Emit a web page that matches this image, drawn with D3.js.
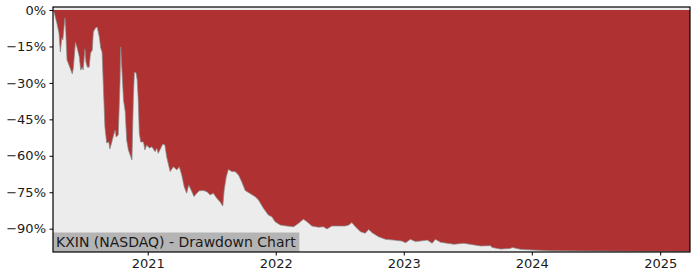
<!DOCTYPE html>
<html>
<head>
<meta charset="utf-8">
<script src="https://cdn.jsdelivr.net/npm/d3@7"></script>
<style>
  body { margin: 0; background: #fff; }
  text { font-family: "DejaVu Sans", sans-serif; }
</style>
</head>
<body>
<div id="chart"></div>
<script>
// drawdown readings (date, % below previous peak)
const dates = [
  "2020-04-06","2020-04-09","2020-04-17","2020-04-23","2020-04-27","2020-05-01","2020-05-04","2020-05-10",
  "2020-05-12","2020-05-16","2020-05-24","2020-05-31","2020-06-03","2020-06-09","2020-06-14","2020-06-20",
  "2020-06-24","2020-06-29","2020-07-01","2020-07-06","2020-07-09","2020-07-13","2020-07-18","2020-07-22",
  "2020-07-27","2020-07-30","2020-08-05","2020-08-10","2020-08-16","2020-08-20","2020-08-24","2020-08-28",
  "2020-09-01","2020-09-06","2020-09-12","2020-09-15","2020-09-20","2020-09-25","2020-09-30","2020-10-03",
  "2020-10-09","2020-10-14","2020-10-16","2020-10-19","2020-10-24","2020-10-29","2020-11-02","2020-11-07",
  "2020-11-12","2020-11-17","2020-11-21","2020-11-24","2020-11-29","2020-12-02","2020-12-05","2020-12-08",
  "2020-12-12","2020-12-20","2020-12-24","2020-12-29","2021-01-06","2021-01-13","2021-01-22","2021-01-27",
  "2021-01-31","2021-02-13","2021-02-19","2021-02-24","2021-03-06","2021-03-15","2021-03-25","2021-04-01",
  "2021-04-08","2021-04-15","2021-04-22","2021-04-28","2021-05-07","2021-05-13","2021-05-21","2021-05-28",
  "2021-06-09","2021-06-19","2021-06-28","2021-07-07","2021-07-17","2021-07-26","2021-08-03","2021-08-07",
  "2021-08-13","2021-08-19","2021-08-29","2021-09-07","2021-09-17","2021-09-26","2021-10-06","2021-10-22",
  "2021-11-03","2021-11-13","2021-11-27","2021-12-11","2021-12-21","2021-12-30","2022-01-14","2022-02-02",
  "2022-02-21","2022-03-07","2022-03-21","2022-03-31","2022-04-14","2022-05-03","2022-05-17","2022-05-27",
  "2022-06-10","2022-06-29","2022-07-18","2022-07-28","2022-08-06","2022-08-16","2022-08-30","2022-09-13",
  "2022-09-23","2022-10-03","2022-10-21","2022-11-10","2022-12-03","2022-12-27","2023-01-06","2023-01-20",
  "2023-02-03","2023-02-17","2023-03-09","2023-03-23","2023-04-01","2023-04-16","2023-05-24","2023-06-21",
  "2023-08-08","2023-09-05","2023-09-10","2023-10-04","2023-11-02","2023-11-06","2023-11-30","2024-01-07",
  "2024-02-24","2024-09-30","2025-03-27"
];
const drawdown = [
  0, -0.8, -5.3, -9.5, -17.3, -11.5, -12.3, -3.3,
  -7, -20.6, -23.5, -26.3, -23.9, -13.2, -15.6, -19.3,
  -24.7, -23.5, -24.7, -16, -21.4, -23.5, -23.5, -17.7,
  -16.5, -9, -7.4, -7, -11.1, -15.6, -17.3, -32.9,
  -48.1, -54.7, -54.3, -57.2, -54.7, -51.9, -49.4, -52.3,
  -51.4, -30, -15.2, -23.5, -37, -42, -53.5, -57.6,
  -59.7, -61.7, -37, -25.5, -25.9, -28.8, -37, -50.6,
  -54.3, -54.3, -57.6, -55.6, -56.8, -56.3, -58.3, -56.9,
  -59, -55.1, -55.6, -60.4, -66.5, -64.5, -65.8, -64.5,
  -67.9, -72.7, -75.4, -72, -74.8, -76.8, -75.4, -74.4,
  -74.3, -74.8, -76.1, -75.4, -77.5, -78.9, -80.7, -74.1,
  -68.6, -65.6, -66.5, -66.5, -67.9, -70.7, -74.3, -75.7,
  -76.8, -78.2, -81.6, -84.4, -85.1, -87.1, -88.5, -88.9,
  -89.2, -87.8, -86.1, -87.1, -88.9, -89.4, -89.2, -90.1,
  -88.9, -88.9, -88.9, -88.5, -87.5, -89.2, -91.2, -91.9,
  -90.3, -91.7, -93.3, -94.4, -94.7, -95.1, -95.8, -94.4,
  -95.3, -95.1, -94.7, -96, -94.4, -95.6, -96.4, -96,
  -97.1, -97, -97.7, -98.4, -98.1, -97.7, -98.5, -98.8,
  -99.1, -99.3, -99.4
];
const yTicks = [0, -15, -30, -45, -60, -75, -90];
const xTickYears = [2021, 2022, 2023, 2024, 2025];
const title = "KXIN (NASDAQ) - Drawdown Chart";

const width = 700, height = 280;
const margin = {top: 7, right: 10, bottom: 28, left: 53};

const parse = d3.timeParse("%Y-%m-%d");
const data = dates.map((d, i) => ({date: parse(d), dd: drawdown[i]}));

const x = d3.scaleTime()
  .domain(d3.extent(data, d => d.date))
  .range([margin.left, width - margin.right]);
const y = d3.scaleLinear()
  .domain([-99.6, 1.25])
  .range([height - margin.bottom, margin.top]);

const svg = d3.select("#chart").append("svg")
  .attr("width", width)
  .attr("height", height);

// plot background
svg.append("rect")
  .attr("x", margin.left).attr("y", margin.top)
  .attr("width", width - margin.left - margin.right)
  .attr("height", height - margin.top - margin.bottom)
  .attr("fill", "#ececec");

const area = d3.area()
  .x(d => x(d.date))
  .y0(y(0))
  .y1(d => y(d.dd));

svg.append("path")
  .datum(data)
  .attr("fill", "#b03131")
  .attr("d", area);

svg.append("path")
  .datum(data)
  .attr("fill", "none")
  .attr("stroke", "#888")
  .attr("stroke-opacity", 0.7)
  .attr("stroke-width", 1)
  .attr("d", d3.line().x(d => x(d.date)).y(d => y(d.dd)));

// title box in bottom-left corner
const label = svg.append("g");
const labelText = label.append("text")
  .attr("x", margin.left + 3)
  .attr("y", height - margin.bottom - 5)
  .attr("font-size", 14)
  .attr("fill", "#1a1a1a")
  .text(title);
const bb = labelText.node().getBBox();
label.insert("rect", "text")
  .attr("x", margin.left)
  .attr("y", height - margin.bottom - 19.5)
  .attr("width", bb.width + 6)
  .attr("height", 19.5)
  .attr("fill", "#b4b4b4");

// axes
const fmt = v => (v < 0 ? "\u2212" : "") + Math.abs(v) + "%";
svg.append("g")
  .attr("transform", `translate(${margin.left},0)`)
  .call(d3.axisLeft(y).tickValues(yTicks).tickFormat(fmt).tickSize(3.5).tickPadding(3.5))
  .call(g => g.select(".domain").remove())
  .call(g => g.selectAll("text").attr("font-size", 13).attr("fill", "#1a1a1a").attr("font-family", "DejaVu Sans"));

svg.append("g")
  .attr("transform", `translate(0,${height - margin.bottom})`)
  .call(d3.axisBottom(x).tickValues(xTickYears.map(yr => new Date(yr, 0, 1)))
    .tickFormat(d3.timeFormat("%Y")).tickSize(3.5).tickPadding(3.5))
  .call(g => g.select(".domain").remove())
  .call(g => g.selectAll("text").attr("font-size", 13).attr("fill", "#1a1a1a").attr("font-family", "DejaVu Sans"));

// frame
svg.append("rect")
  .attr("x", margin.left).attr("y", margin.top)
  .attr("width", width - margin.left - margin.right)
  .attr("height", height - margin.top - margin.bottom)
  .attr("fill", "none")
  .attr("stroke", "#000")
  .attr("stroke-width", 1.2);
</script>
</body>
</html>
